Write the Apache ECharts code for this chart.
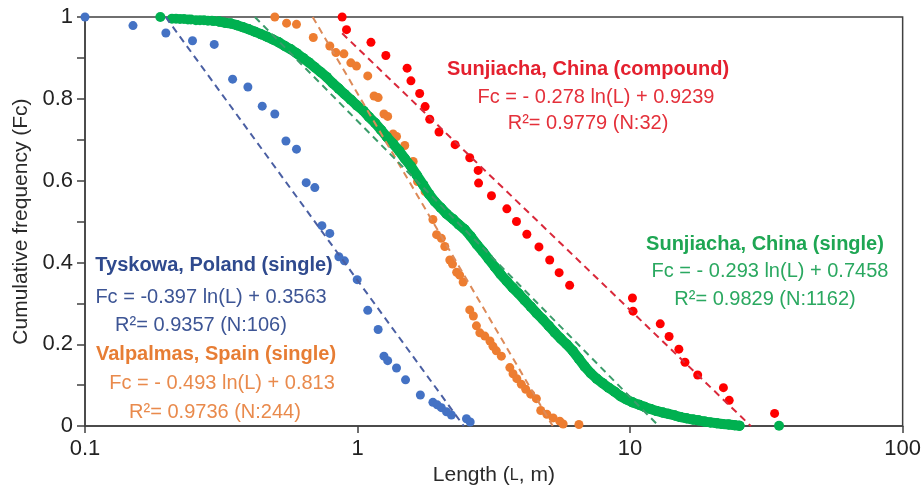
<!DOCTYPE html>
<html>
<head>
<meta charset="utf-8">
<script src="https://cdn.jsdelivr.net/npm/echarts@6/dist/echarts.min.js"></script>
<style>
  html, body { margin: 0; padding: 0; background: #ffffff; }
  #chart { width: 924px; height: 491px; }
</style>
</head>
<body>
<div id="chart"></div>
<script>
// Tyskowa, Poland (single): length L (m) and cumulative frequency Fc
const tyskowaL = [0.1, 0.15, 0.198, 0.248, 0.298, 0.348, 0.396, 0.447, 0.497, 0.546, 0.597, 0.648, 0.697, 0.74, 0.791, 0.854, 0.895, 0.997, 1.09, 1.19, 1.25, 1.29, 1.39, 1.5, 1.7, 1.89, 1.96, 2.03, 2.12, 2.21, 2.51, 2.59];
const tyskowaFc = [1.0, 0.979, 0.961, 0.942, 0.933, 0.848, 0.829, 0.782, 0.763, 0.697, 0.677, 0.595, 0.583, 0.49, 0.471, 0.414, 0.404, 0.358, 0.283, 0.236, 0.171, 0.16, 0.142, 0.113, 0.076, 0.058, 0.052, 0.045, 0.035, 0.027, 0.018, 0.01];

// Valpalmas, Spain (single)
const valpalmasL = [0.497, 0.549, 0.597, 0.688, 0.791, 0.833, 0.891, 0.945, 0.991, 1.09, 1.15, 1.19, 1.25, 1.29, 1.35, 1.39, 1.49, 1.6, 1.66, 1.77, 1.89, 1.95, 2.03, 2.09, 2.18, 2.23, 2.31, 2.37, 2.44, 2.58, 2.66, 2.73, 2.81, 2.93, 3.06, 3.14, 3.23, 3.37, 3.62, 3.72, 3.84, 3.99, 4.14, 4.32, 4.53, 4.7, 4.95, 5.22, 5.52, 5.68, 6.49];
const valpalmasFc = [1.0, 0.985, 0.982, 0.95, 0.929, 0.913, 0.91, 0.888, 0.88, 0.856, 0.807, 0.803, 0.763, 0.757, 0.714, 0.708, 0.686, 0.647, 0.598, 0.573, 0.505, 0.468, 0.459, 0.439, 0.406, 0.396, 0.376, 0.369, 0.352, 0.284, 0.269, 0.245, 0.228, 0.22, 0.208, 0.195, 0.184, 0.171, 0.143, 0.128, 0.116, 0.102, 0.09, 0.078, 0.067, 0.038, 0.029, 0.02, 0.012, 0.005, 0.004];

// Sunjiacha, China (compound)
const compoundL = [0.878, 0.911, 1.12, 1.27, 1.52, 1.57, 1.69, 1.77, 1.84, 1.99, 2.28, 2.58, 2.77, 2.78, 3.1, 3.53, 3.83, 4.18, 4.63, 5.07, 5.49, 6.0, 10.2, 10.25, 12.9, 13.9, 15.1, 15.9, 17.7, 22.0, 23.1, 33.9];
const compoundFc = [1.0, 0.969, 0.938, 0.906, 0.875, 0.844, 0.813, 0.781, 0.75, 0.719, 0.688, 0.656, 0.625, 0.594, 0.563, 0.531, 0.5, 0.469, 0.438, 0.406, 0.375, 0.344, 0.313, 0.281, 0.25, 0.219, 0.188, 0.156, 0.125, 0.094, 0.063, 0.031];

// Sunjiacha, China (single) - dense sample, traced along its run
const singleL = [
  0.189, 0.2085, 0.2157, 0.2231, 0.2307, 0.2386, 0.2447, 0.2553, 0.2641, 0.2732, 0.2825, 0.2922, 0.2972,
  0.310, 0.326, 0.343, 0.361, 0.380, 0.399, 0.420, 0.442, 0.465, 0.489,
  0.514, 0.541, 0.569, 0.599, 0.630, 0.663, 0.697, 0.733, 0.771, 0.811,
  0.853, 0.898, 0.945, 0.994, 1.05, 1.10, 1.16, 1.22, 1.28, 1.35,
  1.42, 1.49, 1.57, 1.65, 1.74, 1.83, 1.92, 2.02, 2.12, 2.24,
  2.35, 2.47, 2.60, 2.74, 2.88, 3.03, 3.19, 3.35, 3.53, 3.71,
  3.90, 4.10, 4.32, 4.54, 4.78, 5.03, 5.29, 5.56, 5.85, 6.16,
  6.48, 6.81, 7.17, 7.54, 7.93, 8.34, 8.78, 9.23, 9.71, 10.2,
  10.8, 11.3, 11.9, 12.5, 13.2, 13.8, 14.6, 15.3, 16.1, 17.0,
  17.8, 18.8, 19.7, 20.8, 21.8, 23.0, 24.2, 25.2,
  35.2
];
const singleFc = [
  1.0, 0.996, 0.996, 0.995, 0.995, 0.994, 0.994, 0.992, 0.992, 0.992, 0.991, 0.991, 0.99,
  0.989, 0.986, 0.984, 0.980, 0.975, 0.970, 0.964, 0.958, 0.952, 0.945,
  0.938, 0.929, 0.921, 0.911, 0.900, 0.889, 0.877, 0.865, 0.853, 0.838,
  0.825, 0.811, 0.798, 0.784, 0.771, 0.756, 0.741, 0.724, 0.707, 0.690,
  0.673, 0.654, 0.635, 0.613, 0.590, 0.567, 0.549, 0.534, 0.519, 0.506,
  0.493, 0.481, 0.464, 0.444, 0.427, 0.408, 0.389, 0.371, 0.354, 0.338,
  0.324, 0.308, 0.292, 0.276, 0.261, 0.245, 0.229, 0.214, 0.200, 0.184,
  0.165, 0.146, 0.129, 0.116, 0.105, 0.094, 0.084, 0.073, 0.065, 0.058,
  0.052, 0.047, 0.042, 0.037, 0.033, 0.030, 0.026, 0.022, 0.019, 0.016,
  0.014, 0.011, 0.009, 0.007, 0.005, 0.004, 0.002, 0.001,
  0.001
];

// Logarithmic fits Fc = a ln(L) + b, order: Tyskowa, Valpalmas, compound, single
const fitSlope = [-0.397, -0.493, -0.278, -0.293];
const fitIntercept = [0.3563, 0.813, 0.9239, 0.7458];

const xTicks = [0.1, 1, 10, 100];
const yTicks = [0, 0.2, 0.4, 0.6, 0.8, 1];

const FONT = '"Liberation Sans", Arial, Helvetica, sans-serif';
const C = {
  blue: '#4472c4', orange: '#ed7d31', red: '#ff0000', green: '#00b050',
  blueFit: '#4a5fa3', orangeFit: '#dd8a58', redFit: '#d9283a', greenFit: '#3a9c6a'
};

const zip = (xs, ys) => xs.map((x, i) => [x, ys[i]]);

// Trend segment over the data's length range, kept inside 0 <= Fc <= 1
function fitSegment(k, xs) {
  const a = fitSlope[k], b = fitIntercept[k];
  const lTop = Math.exp((1 - b) / a);
  const lBottom = Math.exp((0 - b) / a);
  const l0 = Math.max(Math.min(...xs), lTop);
  const l1 = Math.min(Math.max(...xs), lBottom);
  return [[l0, a * Math.log(l0) + b], [l1, a * Math.log(l1) + b]];
}

function scatter(name, data, color, size, z) {
  return {
    name, type: 'scatter', data, symbol: 'circle', symbolSize: size,
    itemStyle: { color, opacity: 1 }, clip: false, z, silent: true
  };
}

function fitLine(name, data, color) {
  return {
    name, type: 'line', data, showSymbol: false, symbol: 'none', z: 10, silent: true,
    lineStyle: { color, width: 2, type: [7, 5] }
  };
}

const singlePts = zip(singleL, singleFc);
const singleBand = singlePts.filter(p => p[0] >= 0.3 && p[0] <= 30);

const chart = echarts.init(document.getElementById('chart'), null, { renderer: 'canvas' });

const texts = [
  { t: 'Sunjiacha, China (compound)', x: 588, y: 69, c: '#e4202e', b: true },
  { t: 'Fc = - 0.278 ln(L) + 0.9239', x: 596, y: 97, c: '#e4303a' },
  { t: 'R\u00b2= 0.9779 (N:32)', x: 588, y: 123, c: '#e4303a' },
  { t: 'Sunjiacha, China (single)', x: 765, y: 244, c: '#1ea653', b: true },
  { t: 'Fc = - 0.293 ln(L) + 0.7458', x: 770, y: 271, c: '#2aa860' },
  { t: 'R\u00b2= 0.9829 (N:1162)', x: 765, y: 299, c: '#2aa860' },
  { t: 'Tyskowa, Poland (single)', x: 214, y: 265, c: '#2f4a8e', b: true },
  { t: 'Fc = -0.397 ln(L) + 0.3563', x: 211, y: 297, c: '#3d5595' },
  { t: 'R\u00b2= 0.9357 (N:106)', x: 201, y: 325, c: '#3d5595' },
  { t: 'Valpalmas, Spain (single)', x: 216, y: 354, c: '#e77d34', b: true },
  { t: 'Fc = - 0.493 ln(L) + 0.813', x: 222, y: 383, c: '#e98a4c' },
  { t: 'R\u00b2= 0.9736 (N:244)', x: 215, y: 412, c: '#e98a4c' }
];

chart.setOption({
  animation: false,
  backgroundColor: '#ffffff',
  grid: {
    left: 85, right: 21, top: 17, bottom: 62,
    show: true, borderColor: '#404040', borderWidth: 1.5, backgroundColor: 'transparent'
  },
  xAxis: {
    type: 'log', logBase: 10, min: xTicks[0], max: xTicks[xTicks.length - 1],
    name: 'Length ({s|L}, m)', nameLocation: 'middle', nameGap: 32,
    nameTextStyle: {
      fontFamily: FONT, fontSize: 21, color: '#2a2a2a',
      rich: { s: { fontFamily: FONT, fontSize: 16, color: '#2a2a2a' } }
    },
    axisLine: { show: true, lineStyle: { color: '#404040', width: 1.5 } },
    axisTick: { show: true, inside: false, length: 7, lineStyle: { color: '#404040', width: 1.5 } },
    minorTick: { show: false },
    splitLine: { show: false },
    axisLabel: {
      fontFamily: FONT, fontSize: 22, color: '#222', margin: 12,
      formatter: v => {
        const hit = xTicks.find(t => Math.abs(t - v) / t < 1e-6);
        return hit === undefined ? '' : String(hit);
      }
    }
  },
  yAxis: {
    type: 'value', min: yTicks[0], max: yTicks[yTicks.length - 1], interval: 0.2,
    name: 'Cumulative frequency (Fc)', nameLocation: 'middle', nameGap: 52,
    nameTextStyle: { fontFamily: FONT, fontSize: 21, color: '#2a2a2a' },
    axisLine: { show: true, lineStyle: { color: '#404040', width: 1.5 } },
    axisTick: { show: true, inside: false, length: 8, lineStyle: { color: '#404040', width: 1.5 } },
    minorTick: { show: true, splitNumber: 2, length: 8, lineStyle: { color: '#404040', width: 1.5 } },
    splitLine: { show: false },
    minorSplitLine: { show: false },
    axisLabel: {
      fontFamily: FONT, fontSize: 22, color: '#222', margin: 12,
      formatter: v => {
        const hit = yTicks.find(t => Math.abs(t - v) < 1e-6);
        return hit === undefined ? '' : String(hit);
      }
    }
  },
  series: [
    scatter('Valpalmas', zip(valpalmasL, valpalmasFc), C.orange, 9, 2),
    scatter('Tyskowa', zip(tyskowaL, tyskowaFc), C.blue, 9, 2),
    scatter('Sunjiacha single', singlePts, C.green, 10, 3),
    {
      name: 'Sunjiacha single run', type: 'line', data: singleBand, z: 3, silent: true,
      symbol: 'circle', symbolSize: 10, showSymbol: true, showAllSymbol: true,
      itemStyle: { color: C.green },
      lineStyle: { color: C.green, width: 10, cap: 'round', join: 'round' }
    },
    scatter('Sunjiacha compound', zip(compoundL, compoundFc), C.red, 9, 4),
    fitLine('Tyskowa fit', fitSegment(0, tyskowaL), C.blueFit),
    fitLine('Valpalmas fit', fitSegment(1, valpalmasL), C.orangeFit),
    fitLine('Sunjiacha compound fit', fitSegment(2, compoundL), C.redFit),
    fitLine('Sunjiacha single fit', fitSegment(3, singleL), C.greenFit)
  ],
  graphic: texts.map(d => ({
    type: 'text', x: d.x, y: d.y, z: 20, silent: true,
    style: {
      text: d.t, fill: d.c,
      font: (d.b ? 'bold ' : '') + '20px ' + FONT,
      align: 'center', verticalAlign: 'middle',
      textAlign: 'center', textVerticalAlign: 'middle'
    }
  }))
});
</script>
</body>
</html>
